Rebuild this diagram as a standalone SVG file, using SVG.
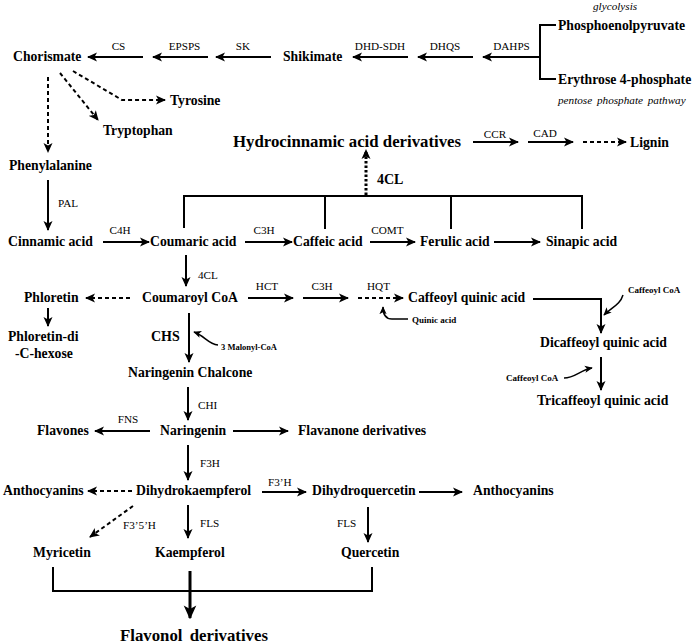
<svg xmlns="http://www.w3.org/2000/svg" width="697" height="644" viewBox="0 0 697 644">
<defs>
<marker id="ah" viewBox="0 0 10 10" markerWidth="10" markerHeight="10" refX="9" refY="5" orient="auto" markerUnits="userSpaceOnUse"><path d="M0,0.5 L10,5 L0,9.5 L2.5,5 z" fill="#000"/></marker>
<marker id="ahs" viewBox="0 0 10 10" markerWidth="8" markerHeight="8" refX="9" refY="5" orient="auto" markerUnits="userSpaceOnUse"><path d="M0,0.5 L10,5 L0,9.5 L2.5,5 z" fill="#000"/></marker>
<marker id="ahb" viewBox="0 0 10 10" markerWidth="14" markerHeight="14" refX="9" refY="5" orient="auto" markerUnits="userSpaceOnUse"><path d="M0,0.5 L10,5 L0,9.5 L2.5,5 z" fill="#000"/></marker>
</defs>
<style>
text{font-family:"Liberation Serif","Times New Roman",serif;fill:#000}
.n{font-size:13.7px;font-weight:bold}
.big{font-size:16.8px;font-weight:bold}
.e{font-size:11.2px}
.it{font-size:11.2px;font-style:italic}
.sm{font-size:9px;font-weight:bold}
.l{stroke:#000;stroke-width:2;fill:none}
.a{stroke:#000;stroke-width:2;fill:none;marker-end:url(#ah)}
.d{stroke:#000;stroke-width:2;fill:none;stroke-dasharray:4,3;marker-end:url(#ah)}
.c{stroke:#000;stroke-width:1.5;fill:none;marker-end:url(#ahs)}
</style>
<rect width="697" height="644" fill="#fff"/>
<g id="connectors">
<line class="a" x1="143" y1="57" x2="88" y2="57"/>
<line class="a" x1="208" y1="57" x2="153" y2="57"/>
<line class="a" x1="271" y1="57" x2="216" y2="57"/>
<line class="a" x1="408" y1="57" x2="353" y2="57"/>
<line class="a" x1="473" y1="57" x2="418" y2="57"/>
<line class="a" x1="540" y1="57" x2="483" y2="57"/>
<path class="l" d="M556,25 H540 V79 H556"/>
<line class="d" x1="48" y1="77" x2="48" y2="152"/>
<line class="d" x1="60" y1="73" x2="98" y2="120"/>
<polyline class="d" points="73,71 122,100 165,100"/>
<line x1="366" y1="195" x2="366" y2="150" stroke="#000" stroke-width="3" stroke-dasharray="2.5,2" marker-end="url(#ah)"/>
<line class="a" x1="473" y1="142" x2="518" y2="142"/>
<line class="a" x1="528" y1="142" x2="573" y2="142"/>
<line class="d" x1="583" y1="142" x2="626" y2="142"/>
<path class="l" d="M184,228 V196 H582 V229"/>
<line class="l" x1="325" y1="196" x2="325" y2="229"/>
<line class="l" x1="451" y1="196" x2="451" y2="229"/>
<line class="a" x1="48" y1="180" x2="48" y2="230"/>
<line class="a" x1="103" y1="242" x2="149" y2="242"/>
<line class="a" x1="245" y1="242" x2="292" y2="242"/>
<line class="a" x1="370" y1="242" x2="415" y2="242"/>
<line class="a" x1="494" y1="242" x2="540" y2="242"/>
<line class="a" x1="186" y1="255" x2="186" y2="286"/>
<line class="d" x1="130" y1="298" x2="86" y2="298"/>
<line class="a" x1="48" y1="308" x2="48" y2="326"/>
<line class="a" x1="248" y1="298" x2="293" y2="298"/>
<line class="a" x1="303" y1="298" x2="348" y2="298"/>
<line class="d" x1="358" y1="298" x2="403" y2="298"/>
<path class="c" d="M408,319 L392,319 C386,319 383,315 383,307"/>
<path class="a" d="M533,299 H601 V333"/>
<path class="c" d="M623,295 C620,305 612,307 604,315"/>
<line class="a" x1="601" y1="357" x2="601" y2="390"/>
<path class="c" d="M564,378 C575,378 580,370 592,368"/>
<line class="a" x1="189" y1="313" x2="189" y2="362"/>
<path class="c" d="M218,345 C208,344 205,336 194,332"/>
<line class="a" x1="188" y1="387" x2="188" y2="420"/>
<line class="a" x1="150" y1="431" x2="95" y2="431"/>
<line class="a" x1="233" y1="431" x2="288" y2="431"/>
<line class="a" x1="188" y1="445" x2="188" y2="480"/>
<line class="d" x1="132" y1="491" x2="88" y2="491"/>
<line class="a" x1="262" y1="492" x2="306" y2="492"/>
<line class="a" x1="419" y1="492" x2="462" y2="492"/>
<line class="d" x1="133" y1="506" x2="90" y2="537"/>
<line class="a" x1="188" y1="505" x2="188" y2="538"/>
<line class="a" x1="368" y1="507" x2="368" y2="542"/>
<path class="l" d="M53,567 V591 H372 V567"/>
<line x1="190" y1="571" x2="190" y2="618" stroke="#000" stroke-width="3" marker-end="url(#ahb)"/>
</g>
<g id="labels">
<text class="e" x="118.5" y="50" text-anchor="middle">CS</text>
<text class="e" x="184.5" y="50" text-anchor="middle">EPSPS</text>
<text class="e" x="243" y="50" text-anchor="middle">SK</text>
<text class="e" x="380" y="50" text-anchor="middle">DHD-SDH</text>
<text class="e" x="445" y="50" text-anchor="middle">DHQS</text>
<text class="e" x="511.5" y="50" text-anchor="middle">DAHPS</text>
<text class="it" x="593" y="10">glycolysis</text>
<text class="it" x="558" y="104" word-spacing="2">pentose phosphate pathway</text>
<text class="e" x="495" y="138" text-anchor="middle">CCR</text>
<text class="e" x="545" y="137" text-anchor="middle">CAD</text>
<text x="377" y="184" style="font-size:14px;font-weight:bold">4CL</text>
<text class="e" x="58" y="207">PAL</text>
<text class="e" x="120" y="234" text-anchor="middle">C4H</text>
<text class="e" x="264" y="234" text-anchor="middle">C3H</text>
<text class="e" x="387.5" y="234" text-anchor="middle">COMT</text>
<text class="e" x="198" y="279">4CL</text>
<text class="e" x="267" y="290" text-anchor="middle">HCT</text>
<text class="e" x="322" y="290" text-anchor="middle">C3H</text>
<text class="e" x="378.5" y="290" text-anchor="middle">HQT</text>
<text class="sm" x="412" y="323">Quinic acid</text>
<text class="sm" x="628" y="293">Caffeoyl CoA</text>
<text class="sm" x="506" y="381">Caffeoyl CoA</text>
<text x="151" y="341" style="font-size:14px;font-weight:bold">CHS</text>
<text x="221" y="350" style="font-size:8.5px;font-weight:bold">3 Malonyl-CoA</text>
<text class="e" x="198" y="409">CHI</text>
<text class="e" x="128" y="423" text-anchor="middle">FNS</text>
<text class="e" x="200" y="467">F3H</text>
<text class="e" x="268" y="486">F3’H</text>
<text class="e" x="123" y="529">F3’5’H</text>
<text class="e" x="200" y="527">FLS</text>
<text class="e" x="337" y="527">FLS</text>
</g>
<g id="chorismate"><text class="n" x="13" y="61">Chorismate</text></g>
<g id="shikimate"><text class="n" x="283" y="61">Shikimate</text></g>
<g id="phosphoenolpyruvate"><text class="n" x="558" y="30">Phosphoenolpyruvate</text></g>
<g id="erythrose"><text class="n" x="558" y="84">Erythrose 4-phosphate</text></g>
<g id="tyrosine"><text class="n" x="170" y="105">Tyrosine</text></g>
<g id="tryptophan"><text class="n" x="103" y="135">Tryptophan</text></g>
<g id="phenylalanine"><text class="n" x="9" y="170">Phenylalanine</text></g>
<g id="hydrocinnamic"><text class="big" x="233" y="147">Hydrocinnamic acid derivatives</text></g>
<g id="lignin"><text class="n" x="630" y="147">Lignin</text></g>
<g id="cinnamic"><text class="n" x="8" y="246">Cinnamic acid</text></g>
<g id="coumaric"><text class="n" x="150" y="246">Coumaric acid</text></g>
<g id="caffeic"><text class="n" x="293" y="246">Caffeic acid</text></g>
<g id="ferulic"><text class="n" x="420" y="246">Ferulic acid</text></g>
<g id="sinapic"><text class="n" x="546" y="246">Sinapic acid</text></g>
<g id="coumaroylcoa"><text class="n" x="142" y="302">Coumaroyl CoA</text></g>
<g id="phloretin"><text class="n" x="24" y="302">Phloretin</text></g>
<g id="phloretindi"><text class="n" x="8" y="341">Phloretin-di</text><text class="n" x="15" y="358">-C-hexose</text></g>
<g id="caffeoylquinic"><text class="n" x="408" y="302">Caffeoyl quinic acid</text></g>
<g id="dicaffeoyl"><text class="n" x="540" y="347">Dicaffeoyl quinic acid</text></g>
<g id="tricaffeoyl"><text class="n" x="537" y="405">Tricaffeoyl quinic acid</text></g>
<g id="chalcone"><text class="n" x="128" y="377">Naringenin Chalcone</text></g>
<g id="naringenin"><text class="n" x="160" y="435">Naringenin</text></g>
<g id="flavones"><text class="n" x="37" y="435">Flavones</text></g>
<g id="flavanone"><text class="n" x="298" y="435">Flavanone derivatives</text></g>
<g id="dihydrokaempferol"><text class="n" x="136" y="495">Dihydrokaempferol</text></g>
<g id="anthocyanins1"><text class="n" x="3" y="495">Anthocyanins</text></g>
<g id="dihydroquercetin"><text class="n" x="312" y="495">Dihydroquercetin</text></g>
<g id="anthocyanins2"><text class="n" x="473" y="495">Anthocyanins</text></g>
<g id="myricetin"><text class="n" x="33" y="557">Myricetin</text></g>
<g id="kaempferol"><text class="n" x="155" y="557">Kaempferol</text></g>
<g id="quercetin"><text class="n" x="341" y="557">Quercetin</text></g>
<g id="flavonol"><text class="big" x="120" y="641" word-spacing="3">Flavonol derivatives</text></g>
</svg>
